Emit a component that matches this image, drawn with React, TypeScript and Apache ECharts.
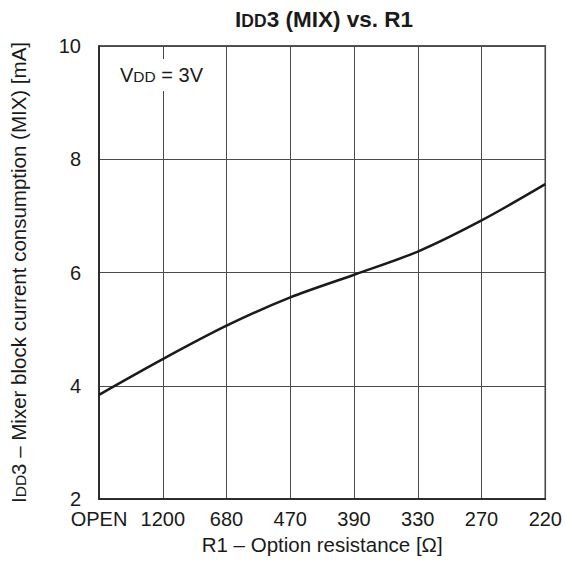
import React, { useEffect, useRef } from "react";
import * as echarts from "echarts";

const categories = ["OPEN", "1200", "680", "470", "390", "330", "270", "220"];
const idd3Values = [3.84, 4.47, 5.06, 5.56, 5.96, 6.37, 6.92, 7.56];
const yMin = 2;
const yMax = 10;
const yInterval = 2;

const FONT = "'Liberation Sans', Arial, sans-serif";
const INK = "#1a1a1a";

export default function App() {
  const ref = useRef<HTMLDivElement>(null);
  useEffect(() => {
    if (!ref.current) return;
    const chart = echarts.init(ref.current, null, { renderer: "svg" });
    chart.setOption({
      animation: false,
      backgroundColor: "#ffffff",
      textStyle: { fontFamily: FONT },
      title: {
        text: "{n|I}{s|DD}{n|3 (MIX) vs. R1}",
        left: 319,
        textAlign: "center",
        top: 3,
        textStyle: {
          rich: {
            n: { fontFamily: FONT, fontSize: 22.5, fontWeight: "bold", color: INK },
            s: { fontFamily: FONT, fontSize: 17.5, fontWeight: "bold", color: INK, verticalAlign: "bottom", padding: [0, 0, 1, 0] },
          },
        },
      },
      grid: {
        left: 95,
        right: 18,
        top: 46,
        bottom: 69,
        show: true,
        borderColor: "#222",
        borderWidth: 1.5,
        backgroundColor: "transparent",
      },
      xAxis: {
        type: "category",
        data: categories,
        boundaryGap: false,
        axisLine: { show: true, lineStyle: { color: "#222", width: 1.5 } },
        axisTick: { show: false },
        axisLabel: { interval: 0, color: INK, fontSize: 20, lineHeight: 18, fontFamily: FONT, margin: 11 },
        splitLine: { show: true, interval: 0, lineStyle: { color: "#4a4a4a", width: 1 } },
        name: "R1 – Option resistance [Ω]",
        nameLocation: "middle",
        nameGap: 34,
        nameTextStyle: { color: INK, fontSize: 20.5, fontFamily: FONT },
      },
      yAxis: {
        type: "value",
        min: yMin,
        max: yMax,
        interval: yInterval,
        axisLine: { show: true, lineStyle: { color: "#222", width: 1.5 } },
        axisTick: { show: false },
        axisLabel: { color: INK, fontSize: 20, lineHeight: 18, fontFamily: FONT, margin: 18 },
        splitLine: { show: true, lineStyle: { color: "#4a4a4a", width: 1 } },
        name: "{n|I}{s|DD}{n|3 – Mixer block current consumption (MIX) [mA]}",
        nameLocation: "middle",
        nameGap: 70,
        nameTextStyle: {
          rich: {
            n: { fontFamily: FONT, fontSize: 20.5, color: INK },
            s: { fontFamily: FONT, fontSize: 15.5, color: INK, verticalAlign: "bottom", padding: [0, 0, 1, 0] },
          },
        },
      },
      graphic: [
        {
          type: "text",
          left: 116,
          top: 59,
          z: 100,
          style: {
            text: "{n|V}{s|DD}{n| = 3V}",
            backgroundColor: "#ffffff",
            padding: [6, 4, 6, 4],
            rich: {
              n: { fontFamily: FONT, fontSize: 20, fill: INK, color: INK },
              s: { fontFamily: FONT, fontSize: 15.5, fill: INK, color: INK, verticalAlign: "bottom", padding: [0, 0, 1, 0] },
            },
          },
        },
      ],
      series: [
        {
          type: "line",
          data: idd3Values,
          smooth: 0.3,
          symbol: "none",
          lineStyle: { color: INK, width: 2.5 },
          z: 5,
        },
      ],
    });
    return () => chart.dispose();
  }, []);
  return (
    <div
      ref={ref}
      style={{ position: "fixed", left: 0, top: 0, width: 565, height: 568 }}
    />
  );
}
